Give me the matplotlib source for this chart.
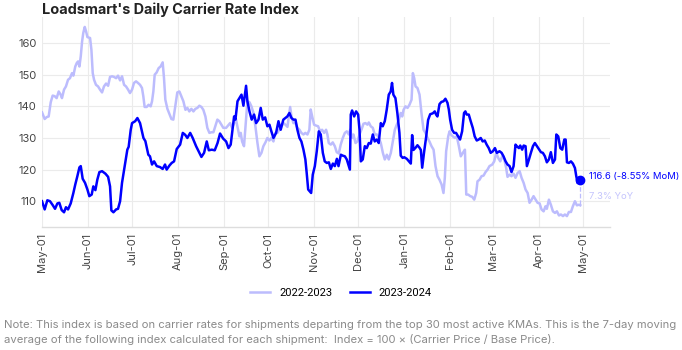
import numpy as np
import pandas as pd
import matplotlib
matplotlib.use('Agg')
import matplotlib.pyplot as plt
import matplotlib.dates as mdates

# day offsets from 2023-05-01 and index values
start = pd.Timestamp('2023-05-01')

days_2324 = [0, 1.8, 3.6, 5.4, 7.2, 8.8, 10.4, 11.7, 13.3, 14.9, 16.2, 17.6, 19.4, 21.2, 22.5, 23.9,
             25.3, 26.2, 27.5, 29.1, 30.7, 32.0, 33.6, 34.7, 36.1, 37.4, 38.8, 40.6, 42.9, 44.7, 46.0,
             46.9, 48.3, 50.1, 51.4, 52.8, 54.1, 55.9, 57.7, 58.6, 60.0, 60.9, 63.0, 64.5, 66.3, 68.6,
             69.9, 71.9, 73.0, 74.4, 75.8, 77.6, 79.8, 81.6, 83.2, 84.3, 86.2, 87.7, 89.3, 91.1, 93.4,
             95.2, 96.8, 98.3, 100.2, 101.9, 104.2, 105.9, 107.8, 109.6, 111.4, 112.8, 114.8, 116.8,
             118.7, 120.4, 122.5, 124.5, 126.1, 127.6, 129.0, 129.9, 130.8, 132.2, 133.5, 134.9, 136.2,
             138.0, 138.9, 140.3, 141.8, 143.4, 144.8, 146.4, 147.9, 149.3, 150.9, 152.4, 153.8, 155.1,
             156.5, 158.3, 159.9, 161.4, 163.2, 164.6, 165.9, 167.3, 168.7, 170.0, 171.4, 172.7, 174.1,
             175.4, 176.8, 178.1, 179.0, 180.0, 181.3, 182.0, 183.1, 184.5, 185.8, 187.2, 188.5, 189.9,
             191.2, 192.6, 194.0, 195.3, 196.7, 198.0, 199.4, 200.5, 202.1, 203.4, 204.8, 206.1, 207.5,
             208.2, 208.8, 209.7, 211.1, 212.4, 213.8, 214.7, 215.6, 216.9, 218.3, 219.6, 221.0, 222.3,
             223.7, 225.0, 226.4, 227.7, 229.1, 230.4, 231.8, 233.1, 234.5, 235.8, 236.7, 237.6, 239.0,
             240.3, 241.7, 242.6, 243.9, 245.0, 246.7, 248.5, 249.4, 250.3, 251.2, 252.6, 253.9, 255.3,
             256.2, 257.1, 258.4, 259.8, 261.1, 262.5, 264.3, 265.6, 266.5, 267.4, 268.8, 270.1, 271.5,
             272.8, 274.2, 275.1, 276.0, 277.3, 278.7, 280.0, 281.4, 282.7, 284.1, 285.4, 286.3, 287.2,
             288.6, 289.9, 291.3, 292.6, 294.0, 295.3, 296.7, 298.0, 299.4, 300.7, 302.1, 303.4, 304.9,
             306.3, 307.6, 309.4, 310.8, 312.1, 313.5, 314.8, 316.2, 317.5, 318.9, 320.2, 321.1, 322.5,
             323.4, 324.7, 325.7, 327.0, 327.9, 329.3, 330.6, 332.0, 333.3, 334.7, 336.0, 337.4, 338.7,
             340.1, 341.4, 342.8, 344.1, 345.5, 346.9, 347.8, 349.1, 350.5, 351.8, 353.2, 354.1, 355.0,
             356.3, 357.7, 359.0, 360.4, 361.3, 362.2, 363.0, 364.0]
vals_2324 = [110.0, 107.4, 110.3, 110.0, 108.8, 107.6, 109.3, 109.5, 107.2, 106.5, 108.1, 107.4, 109.3,
             112.6, 115.3, 117.9, 120.7, 121.1, 117.1, 115.8, 113.7, 111.6, 112.1, 114.7, 113.5, 116.8,
             119.2, 119.5, 118.7, 117.7, 114.7, 107.1, 106.5, 107.4, 107.6, 110.0, 115.8, 121.1, 126.3,
             127.2, 132.6, 134.7, 135.3, 136.3, 134.7, 130.0, 129.0, 124.7, 124.2, 121.6, 122.6, 121.1,
             120.8, 120.2, 121.6, 120.0, 121.3, 122.1, 122.6, 126.5, 127.9, 131.6, 131.0, 130.0, 131.6,
             130.0, 127.4, 125.8, 124.0, 125.3, 128.9, 126.1, 126.3, 126.1, 128.4, 131.4, 129.8, 128.9,
             126.8, 127.9, 133.2, 136.8, 135.8, 141.6, 142.6, 143.7, 140.2, 146.5, 141.6, 138.4, 135.8,
             137.4, 134.7, 135.8, 139.5, 135.8, 136.5, 133.7, 134.2, 132.1, 130.0, 131.6, 135.3, 132.6,
             135.8, 136.3, 136.8, 137.9, 136.3, 135.8, 135.8, 132.6, 130.0, 128.9, 126.3, 123.2, 118.9,
             113.7, 113.0, 112.6, 118.4, 121.1, 125.8, 132.1, 131.1, 125.3, 122.6, 122.1, 122.3, 120.2,
             121.9, 121.1, 123.4, 121.1, 124.7, 124.4, 124.2, 123.2, 121.1, 120.0, 137.4, 138.7, 136.8,
             138.4, 137.4, 132.6, 122.6, 123.2, 127.4, 126.8, 128.4, 128.2, 131.1, 128.9, 129.5, 128.4,
             134.7, 133.7, 135.3, 138.9, 143.7, 144.7, 147.4, 143.7, 142.6, 137.9, 131.6, 124.4, 123.7,
             123.9, 123.4, 122.4, 121.9, 130.9, 126.2, 126.9, 127.7, 126.9, 126.2, 120.6, 125.6, 130.4,
             135.7, 137.5, 137.8, 138.4, 137.4, 136.8, 140.7, 141.4, 141.6, 142.4, 141.1, 139.0, 135.8,
             132.6, 131.6, 131.6, 130.5, 129.5, 132.1, 137.9, 138.4, 137.4, 137.4, 135.3, 133.2, 130.5,
             129.2, 129.5, 130.0, 128.9, 129.2, 127.9, 126.8, 125.3, 125.8, 126.8, 125.3, 125.8, 125.3,
             124.2, 122.6, 121.6, 121.1, 119.2, 121.1, 127.9, 127.4, 126.8, 127.6, 126.3, 127.6, 127.4,
             121.1, 123.2, 125.3, 127.4, 128.4, 127.4, 126.5, 125.5, 125.3, 124.2, 122.3, 123.2, 125.5,
             122.1, 123.2, 131.1, 130.5, 126.8, 126.3, 129.5, 129.5, 122.3, 122.1, 122.6, 121.9, 120.5,
             117.9, 115.8, 115.8, 116.6]

days_2223 = [0, 1.8, 3.2, 4.5, 5.9, 7.2, 8.6, 9.9, 11.3, 12.6, 13.5, 14.9, 16.2, 17.6, 18.9, 20.3,
             21.2, 22.5, 23.5, 24.4, 25.3, 26.2, 27.1, 27.9, 28.9, 29.8, 30.7, 32.5, 33.4, 34.3, 35.2,
             36.5, 37.9, 39.2, 40.6, 41.9, 43.3, 44.7, 46.0, 47.4, 48.7, 50.1, 51.4, 52.8, 54.1, 55.5,
             56.8, 58.2, 59.5, 60.9, 62.2, 63.6, 64.9, 66.3, 67.6, 68.5, 69.4, 70.8, 72.1, 73.5, 74.4,
             75.3, 76.2, 77.5, 78.9, 80.2, 81.6, 82.5, 83.4, 84.8, 86.1, 87.5, 88.8, 90.2, 91.5, 92.9,
             94.2, 95.6, 97.0, 98.3, 99.6, 101.0, 102.4, 103.7, 105.1, 106.4, 107.8, 109.1, 110.5, 111.8,
             113.2, 114.5, 115.9, 117.2, 118.6, 119.9, 121.3, 122.6, 124.5, 125.8, 127.2, 128.5, 129.9,
             131.2, 132.6, 133.5, 134.4, 135.3, 136.6, 138.0, 138.9, 140.3, 141.6, 143.0, 144.3, 145.7,
             147.0, 148.4, 149.7, 151.1, 152.4, 153.8, 155.1, 156.5, 157.8, 159.2, 160.5, 161.9, 163.3,
             164.6, 166.0, 166.9, 167.8, 168.7, 170.0, 171.4, 172.7, 174.1, 175.4, 176.8, 178.1, 179.5,
             180.8, 181.7, 182.7, 184.0, 185.4, 186.7, 188.1, 189.4, 190.8, 192.1, 193.0, 193.9, 195.3,
             196.6, 198.0, 199.3, 200.7, 202.0, 203.4, 204.8, 206.1, 207.5, 208.4, 209.7, 210.6, 212.0,
             213.3, 214.7, 216.0, 217.4, 218.7, 220.1, 221.0, 222.3, 223.7, 225.0, 226.4, 227.8, 229.1,
             230.5, 231.8, 233.2, 234.5, 235.9, 237.2, 238.6, 239.9, 241.3, 242.6, 243.6, 244.5, 245.8,
             247.2, 248.5, 249.9, 250.8, 251.7, 252.6, 253.9, 255.3, 256.6, 258.0, 259.3, 260.7, 262.0,
             263.4, 264.8, 266.1, 267.5, 268.8, 270.2, 271.5, 272.4, 273.3, 274.7, 275.6, 276.5, 277.8,
             279.2, 280.5, 281.9, 283.2, 284.6, 286.0, 286.9, 288.2, 289.6, 290.9, 292.3, 293.6, 294.5,
             295.9, 297.2, 298.6, 299.9, 301.3, 302.6, 304.5, 305.8, 307.2, 308.5, 309.9, 311.2, 312.6,
             313.9, 314.8, 316.2, 317.5, 318.9, 320.2, 321.6, 323.0, 324.3, 325.7, 327.0, 328.4, 329.7,
             331.1, 332.4, 333.8, 335.1, 336.5, 337.8, 339.2, 340.5, 341.4, 342.8, 344.1, 345.5, 346.9,
             348.2, 349.6, 350.9, 352.3, 353.6, 355.0, 356.3, 357.7, 359.0, 360.4, 361.7, 363.1, 364.0]
vals_2223 = [138.1, 136.0, 136.6, 136.8, 141.3, 143.4, 143.2, 142.6, 144.7, 143.7, 142.6, 145.3, 146.3,
             148.4, 148.9, 150.5, 149.7, 152.6, 153.7, 154.2, 152.6, 155.8, 160.5, 163.2, 165.1, 163.7,
             161.9, 161.6, 157.9, 150.5, 148.4, 146.8, 146.3, 145.3, 144.4, 146.3, 147.2, 146.5, 149.3,
             149.5, 149.3, 148.9, 149.7, 148.2, 149.5, 146.8, 146.3, 145.3, 144.2, 145.3, 147.4, 147.9,
             147.4, 146.8, 145.8, 143.2, 139.8, 139.8, 140.5, 140.0, 141.6, 144.7, 150.0, 150.7, 152.1,
             152.6, 153.9, 148.9, 142.1, 139.2, 137.7, 136.0, 135.8, 140.2, 144.4, 144.7, 143.2, 141.6,
             138.9, 139.5, 138.4, 139.2, 138.4, 139.2, 139.5, 140.2, 139.8, 138.9, 136.8, 133.2, 131.6,
             131.8, 131.8, 133.7, 135.8, 135.3, 134.2, 133.2, 133.2, 133.9, 134.7, 133.2, 134.7, 135.8,
             132.6, 130.5, 131.6, 128.9, 127.4, 135.8, 141.6, 141.3, 140.0, 137.9, 133.7, 128.4, 124.2,
             125.3, 127.4, 128.6, 130.0, 129.2, 130.0, 128.9, 131.6, 131.6, 132.6, 133.7, 134.7, 134.2,
             133.5, 136.8, 139.8, 136.8, 134.7, 134.7, 133.2, 132.6, 131.6, 131.1, 131.6, 131.1, 132.6,
             139.0, 136.8, 134.2, 133.9, 133.7, 132.1, 132.6, 131.6, 132.6, 131.1, 128.4, 127.9, 128.6,
             127.4, 125.5, 125.1, 127.9, 130.0, 131.6, 132.1, 131.1, 132.6, 130.0, 131.1, 128.4, 128.9,
             131.1, 132.6, 134.5, 134.7, 134.2, 134.9, 133.7, 133.2, 131.1, 131.1, 130.0, 128.4, 125.3,
             123.2, 124.7, 123.2, 125.3, 128.9, 132.6, 134.2, 135.8, 137.9, 136.8, 138.9, 140.0, 139.5,
             140.5, 142.1, 150.5, 148.9, 146.3, 145.8, 143.7, 137.9, 132.6, 131.6, 130.0, 128.9, 127.4,
             126.3, 121.1, 117.9, 116.8, 115.3, 112.6, 117.4, 125.8, 130.5, 132.1, 131.1, 130.5, 130.0,
             130.5, 127.4, 124.2, 125.3, 126.3, 112.1, 112.1, 111.6, 111.4, 110.5, 112.6, 116.3, 116.8,
             117.9, 118.1, 119.2, 120.0, 121.1, 121.6, 122.6, 125.3, 123.7, 122.6, 124.2, 123.2, 120.5,
             117.7, 118.4, 117.9, 118.7, 117.4, 118.9, 119.5, 117.4, 115.8, 113.7, 112.6, 109.5, 110.5,
             111.6, 110.5, 109.5, 109.3, 107.4, 106.8, 108.4, 107.6, 110.5, 108.9, 106.8, 106.3, 106.8,
             105.5, 105.8, 105.3, 105.8, 105.3, 106.6, 106.6, 108.4, 110.0, 108.7, 108.9, 108.7]

last_label = '116.6 (-8.55% MoM)'
yoy_label = '7.3% YoY'

dark = '#0000ff'
light = '#bcbcfd'
font = 'Inter'

x_new = start + pd.to_timedelta(days_2324, unit='D')
x_old = start + pd.to_timedelta(days_2223, unit='D')

fig = plt.figure(figsize=(6.82, 3.5), dpi=100)
ax = fig.add_axes([0.0616, 0.351, 0.8326, 0.60])

ax.plot(x_old, vals_2223, color=light, lw=1.8, label='2022-2023', zorder=2)
ax.plot(x_new, vals_2324, color=dark, lw=1.8, label='2023-2024', zorder=3)

# end point marker, yoy connector and labels
ax.plot([x_new[-1], x_new[-1]], [vals_2324[-1], vals_2223[-1]], color=light, lw=0.9, ls='--', zorder=2)
ax.plot(x_new[-1], vals_2324[-1], 'o', color=dark, ms=6, zorder=4)
ax.annotate(last_label, (x_new[-1], vals_2324[-1]), xytext=(6, 2.5), textcoords='offset points',
            color=dark, fontsize=6.8, va='center', family=font, annotation_clip=False)
ax.annotate(yoy_label, (x_new[-1], vals_2223[-1]), xytext=(6, 6.5), textcoords='offset points',
            color='#c4c4fd', fontsize=6.8, va='center', family=font, annotation_clip=False)

ax.set_xlim(start, start + pd.Timedelta(days=384))
ax.set_ylim(101.8, 168.2)
ax.set_yticks([110, 120, 130, 140, 150, 160])
ax.xaxis.set_major_locator(mdates.MonthLocator())
ax.xaxis.set_major_formatter(mdates.DateFormatter('%b-%d'))

for lab in ax.get_xticklabels():
    lab.set_rotation(90)
for lab in ax.get_xticklabels() + ax.get_yticklabels():
    lab.set_family(font)
    lab.set_fontsize(8)
    lab.set_color('#444444')

ax.tick_params(length=0, pad=4)
ax.grid(True, color='#ebebeb', lw=0.8)
ax.set_axisbelow(True)
for side in ['top', 'right', 'left']:
    ax.spines[side].set_visible(False)
ax.spines['bottom'].set_color('#dddddd')
ax.spines['bottom'].set_linewidth(1)

fig.text(0.0616, 0.972, "Loadsmart's Daily Carrier Rate Index", fontsize=10.4, fontweight='bold',
         family=font, color='#222222', va='center')

fig.legend(loc='center', bbox_to_anchor=(0.5, 0.163), ncol=2, frameon=False,
           prop={'family': 'Roboto', 'size': 8}, handlelength=1.8, columnspacing=1.6)

fig.text(0.006, 0.049, 'Note: This index is based on carrier rates for shipments departing from the top 30 '
         'most active KMAs. This is the 7-day moving\naverage of the following index calculated for each '
         'shipment:  Index = 100 \u00d7 (Carrier Price / Base Price).',
         fontsize=8.1, color='#8a8a8a', family=font, va='center', linespacing=1.45)

fig.savefig('out.png', dpi=100)
